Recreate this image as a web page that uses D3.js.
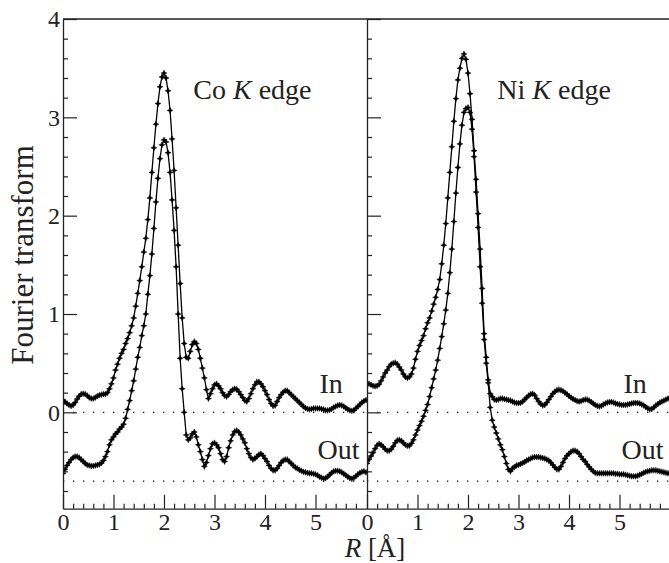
<!DOCTYPE html>
<html>
<head>
<meta charset="utf-8">
<script src="https://cdn.jsdelivr.net/npm/d3@7"></script>
<style>
  body { margin: 0; background: #fff; }
  svg { display: block; }
  svg text { font-family: "Liberation Serif", "DejaVu Serif", "Times New Roman", serif; }
</style>
</head>
<body>
<div id="chart"></div>
<script>
// Data: Fourier transform magnitude sampled every rStep (Angstrom), from R = 0
const rStep = 0.04;

const coIn = [
  0.125,0.105,0.09,0.075,0.065,0.075,0.10,0.135,0.165,0.185,
  0.19,0.185,0.17,0.15,0.14,0.14,0.15,0.165,0.175,0.18,
  0.185,0.185,0.20,0.24,0.29,0.35,0.43,0.49,0.55,0.60,
  0.64,0.70,0.75,0.81,0.88,0.96,1.08,1.21,1.34,1.48,
  1.63,1.77,1.96,2.18,2.44,2.69,2.93,3.14,3.31,3.41,
  3.45,3.40,3.27,3.07,2.78,2.46,2.08,1.70,1.31,0.96,
  0.70,0.56,0.55,0.62,0.69,0.72,0.70,0.64,0.55,0.45,
  0.35,0.23,0.14,0.19,0.24,0.28,0.29,0.27,0.24,0.20,
  0.17,0.16,0.18,0.21,0.23,0.24,0.235,0.21,0.18,0.15,
  0.12,0.11,0.14,0.19,0.24,0.28,0.31,0.31,0.29,0.26,
  0.22,0.18,0.13,0.09,0.065,0.07,0.11,0.15,0.18,0.205,
  0.22,0.22,0.20,0.18,0.16,0.14,0.12,0.10,0.08,0.06,
  0.045,0.035,0.03,0.035,0.04,0.04,0.04,0.04,0.035,0.03,
  0.02,0.02,0.025,0.035,0.05,0.06,0.07,0.075,0.07,0.06,
  0.045,0.03,0.02,0.015,0.02,0.04,0.06,0.08,0.10,0.115,
  0.125
];

const coOut = [
  -0.62,-0.58,-0.54,-0.51,-0.48,-0.46,-0.45,-0.45,-0.46,-0.48,
  -0.50,-0.52,-0.535,-0.54,-0.545,-0.545,-0.54,-0.535,-0.53,-0.515,
  -0.49,-0.45,-0.40,-0.33,-0.28,-0.25,-0.22,-0.20,-0.17,-0.15,
  -0.12,-0.06,0.03,0.12,0.22,0.32,0.44,0.56,0.66,0.78,
  0.88,1.00,1.20,1.39,1.61,1.87,2.14,2.38,2.58,2.72,
  2.77,2.75,2.64,2.44,2.16,1.85,1.48,1.00,0.55,0.24,
  0.00,-0.23,-0.28,-0.26,-0.22,-0.20,-0.25,-0.33,-0.40,-0.48,
  -0.55,-0.51,-0.44,-0.37,-0.32,-0.31,-0.33,-0.36,-0.42,-0.48,
  -0.50,-0.45,-0.36,-0.29,-0.23,-0.195,-0.185,-0.20,-0.23,-0.27,
  -0.31,-0.37,-0.42,-0.46,-0.48,-0.47,-0.45,-0.43,-0.42,-0.44,
  -0.47,-0.50,-0.54,-0.57,-0.59,-0.59,-0.57,-0.54,-0.51,-0.49,
  -0.48,-0.48,-0.50,-0.52,-0.54,-0.56,-0.57,-0.585,-0.595,-0.605,
  -0.61,-0.615,-0.62,-0.62,-0.625,-0.63,-0.64,-0.655,-0.665,-0.675,
  -0.67,-0.655,-0.635,-0.615,-0.60,-0.595,-0.595,-0.60,-0.61,-0.625,
  -0.64,-0.655,-0.67,-0.675,-0.665,-0.65,-0.63,-0.615,-0.605,-0.60,
  -0.61
];

const niIn = [
  0.295,0.29,0.28,0.27,0.265,0.27,0.285,0.32,0.36,0.40,
  0.43,0.465,0.49,0.50,0.505,0.49,0.46,0.43,0.39,0.36,
  0.35,0.36,0.39,0.45,0.54,0.62,0.68,0.73,0.78,0.85,
  0.91,0.96,1.03,1.10,1.17,1.25,1.35,1.51,1.70,1.92,
  2.18,2.44,2.70,2.96,3.19,3.38,3.50,3.60,3.645,3.59,
  3.45,3.24,2.98,2.66,2.37,2.02,1.66,1.26,0.80,0.56,
  0.33,0.19,0.16,0.13,0.125,0.13,0.14,0.14,0.135,0.13,
  0.125,0.12,0.11,0.10,0.095,0.095,0.095,0.11,0.13,0.15,
  0.17,0.185,0.19,0.175,0.14,0.11,0.085,0.07,0.075,0.10,
  0.13,0.16,0.19,0.21,0.225,0.23,0.225,0.215,0.20,0.185,
  0.165,0.15,0.135,0.125,0.115,0.11,0.115,0.125,0.13,0.13,
  0.12,0.105,0.09,0.075,0.065,0.06,0.065,0.08,0.09,0.10,
  0.105,0.105,0.10,0.09,0.085,0.08,0.075,0.075,0.075,0.08,
  0.085,0.09,0.095,0.095,0.095,0.09,0.08,0.07,0.055,0.04,
  0.03,0.035,0.05,0.07,0.085,0.10,0.11,0.12,0.13,0.14,
  0.15
];

const niOut = [
  -0.52,-0.48,-0.445,-0.41,-0.37,-0.335,-0.32,-0.33,-0.35,-0.375,
  -0.39,-0.39,-0.375,-0.345,-0.31,-0.285,-0.28,-0.29,-0.31,-0.33,
  -0.34,-0.34,-0.315,-0.28,-0.23,-0.18,-0.135,-0.09,-0.04,0.02,
  0.08,0.16,0.25,0.34,0.43,0.53,0.65,0.77,0.90,1.04,
  1.21,1.42,1.66,1.94,2.23,2.49,2.73,2.92,3.05,3.09,
  3.10,3.05,2.88,2.60,2.24,1.88,1.48,1.11,0.74,0.50,
  0.30,0.05,-0.08,-0.15,-0.21,-0.27,-0.33,-0.38,-0.45,-0.52,
  -0.58,-0.60,-0.57,-0.555,-0.54,-0.535,-0.525,-0.515,-0.505,-0.49,
  -0.48,-0.47,-0.46,-0.455,-0.455,-0.455,-0.46,-0.465,-0.47,-0.48,
  -0.49,-0.51,-0.535,-0.56,-0.58,-0.58,-0.55,-0.51,-0.47,-0.44,
  -0.42,-0.40,-0.39,-0.39,-0.40,-0.42,-0.45,-0.48,-0.50,-0.53,
  -0.555,-0.58,-0.60,-0.615,-0.62,-0.62,-0.62,-0.62,-0.62,-0.62,
  -0.62,-0.62,-0.62,-0.625,-0.625,-0.63,-0.63,-0.63,-0.635,-0.64,
  -0.645,-0.65,-0.65,-0.65,-0.645,-0.635,-0.625,-0.615,-0.605,-0.60,
  -0.595,-0.59,-0.59,-0.59,-0.595,-0.60,-0.605,-0.61,-0.615,-0.62,
  -0.625
];

// Axis ticks and reference lines
const yMajorTicks = [0, 1, 2, 3, 4];
const xMajorTicks = [0, 1, 2, 3, 4, 5];
const baselines = [0, -0.7];   // zero lines of the "In" and shifted "Out" curves

const serif = "'Liberation Serif', 'DejaVu Serif', 'Times New Roman', serif";

// Canvas
const width = 669;
const height = 563;
const svg = d3.select("#chart")
    .append("svg")
    .attr("width", width)
    .attr("height", height)
    .attr("font-family", serif);

svg.append("rect")
    .attr("width", width)
    .attr("height", height)
    .attr("fill", "#fff");

// Shared y scale
const y = d3.scaleLinear().domain([-0.98, 4]).range([508.7, 19]);

// small 4-point star marker
const markerPath = "M0,-3L0.9,-0.9L3,0L0.9,0.9L0,3L-0.9,0.9L-3,0L-0.9,-0.9Z";

function drawPanel(id, inData, outData, title, left, right, xMax, showYLabels) {
    const x = d3.scaleLinear().domain([0, xMax]).range([left, right]);
    const g = svg.append("g").attr("class", "panel-" + id);

    // Clip the curves to the frame
    g.append("clipPath")
        .attr("id", "clip-" + id)
        .append("rect")
        .attr("x", left)
        .attr("y", y.range()[1])
        .attr("width", right - left)
        .attr("height", y.range()[0] - y.range()[1]);

    // Dotted baselines
    g.selectAll(".baseline")
        .data(baselines)
        .join("line")
        .attr("class", "baseline")
        .attr("x1", left)
        .attr("x2", right)
        .attr("y1", d => y(d))
        .attr("y2", d => y(d))
        .attr("stroke", "#000")
        .attr("stroke-width", 1.3)
        .attr("stroke-dasharray", "1.3,8.7");

    const line = d3.line()
        .x((d, i) => x(i * rStep))
        .y(d => y(d));

    const curves = g.append("g").attr("clip-path", `url(#clip-${id})`);

    [inData, outData].forEach(series => {
        curves.append("path")
            .datum(series)
            .attr("d", line)
            .attr("fill", "none")
            .attr("stroke", "#000")
            .attr("stroke-width", 1.3);

        curves.append("g")
            .selectAll("path")
            .data(series)
            .join("path")
            .attr("transform", (d, i) => `translate(${x(i * rStep)},${y(d)})`)
            .attr("d", markerPath)
            .attr("fill", "#000")
            .attr("stroke", "#000")
            .attr("stroke-width", 0.5);
    });

    // Minor ticks
    const xMinor = d3.range(0.2, xMax, 0.2).filter(v => Math.abs(v - Math.round(v)) > 1e-6);
    const yMinor = d3.range(-0.8, 4, 0.2).filter(v => Math.abs(v - Math.round(v)) > 1e-6);

    g.append("g")
        .attr("transform", `translate(0,${y.range()[0]})`)
        .call(d3.axisBottom(x).tickValues(xMinor).tickSize(-5).tickFormat(""))
        .call(a => a.select(".domain").remove());

    g.append("g")
        .attr("transform", `translate(${left},0)`)
        .call(d3.axisLeft(y).tickValues(yMinor).tickSize(-5).tickFormat(""))
        .call(a => a.select(".domain").remove());

    // Major ticks with labels
    g.append("g")
        .attr("transform", `translate(0,${y.range()[0]})`)
        .call(d3.axisBottom(x).tickValues(xMajorTicks).tickSize(-14).tickSizeOuter(0).tickPadding(4).tickFormat(d3.format("d")));

    const yAxis = g.append("g")
        .attr("transform", `translate(${left},0)`)
        .call(d3.axisLeft(y).tickValues(yMajorTicks).tickSize(-14).tickSizeOuter(0).tickPadding(3).tickFormat(d3.format("d")));

    if (!showYLabels) yAxis.selectAll("text").remove();

    g.selectAll(".tick line").attr("stroke", "#222").attr("stroke-width", 1.2);
    g.selectAll(".domain").attr("stroke", "#222").attr("stroke-width", 1.3);
    g.selectAll(".tick text")
        .attr("font-family", serif)
        .attr("font-size", 24)
        .attr("fill", "#222");

    // Top border
    g.append("line")
        .attr("x1", left).attr("x2", right)
        .attr("y1", y.range()[1]).attr("y2", y.range()[1])
        .attr("stroke", "#222").attr("stroke-width", 1.3);

    // Panel title
    const t = g.append("text")
        .attr("x", x(2.58))
        .attr("y", y(3.19))
        .attr("font-family", serif)
        .attr("font-size", 28)
        .attr("fill", "#222");
    t.append("tspan").text(title + " ");
    t.append("tspan").attr("font-style", "italic").text("K");
    t.append("tspan").text(" edge");

    // Series labels
    g.append("text")
        .attr("x", x(5.08))
        .attr("y", y(0.195))
        .attr("font-family", serif)
        .attr("font-size", 28)
        .attr("fill", "#222")
        .text("In");

    g.append("text")
        .attr("x", x(5.04))
        .attr("y", y(-0.47))
        .attr("font-family", serif)
        .attr("font-size", 28)
        .attr("fill", "#222")
        .text("Out");
}

drawPanel("co", coIn, coOut, "Co", 63, 367, 6.02, true);
drawPanel("ni", niIn, niOut, "Ni", 367, 669, 5.98, false);

// Axis titles
svg.append("text")
    .attr("transform", "translate(33,255) rotate(-90)")
    .attr("text-anchor", "middle")
    .attr("font-family", serif)
    .attr("font-size", 31)
    .attr("fill", "#222")
    .text("Fourier transform");

const xTitle = svg.append("text")
    .attr("x", 375)
    .attr("y", 557)
    .attr("text-anchor", "middle")
    .attr("font-family", serif)
    .attr("font-size", 27)
    .attr("fill", "#222");
xTitle.append("tspan").attr("font-style", "italic").text("R");
xTitle.append("tspan").text(" [Å]");
</script>
</body>
</html>
